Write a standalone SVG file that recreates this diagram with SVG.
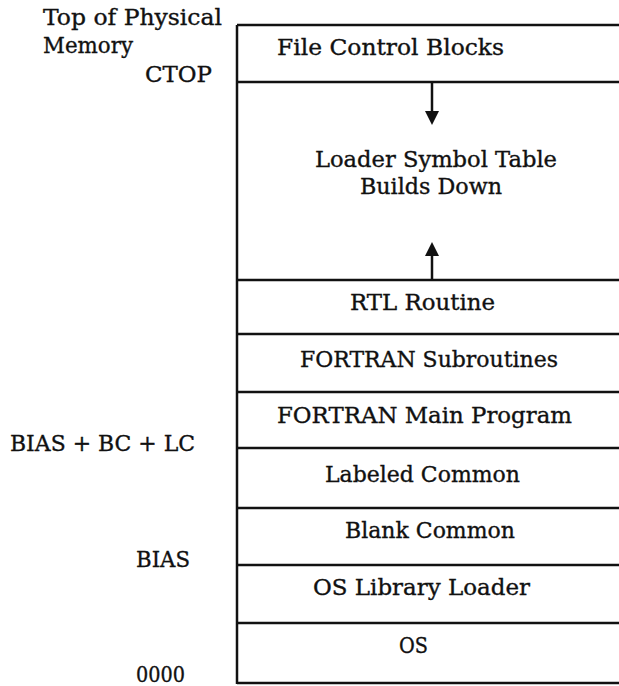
<svg xmlns="http://www.w3.org/2000/svg" width="619" height="686" viewBox="0 0 619 686">
<style>
text{font-family:"DejaVu Serif","Liberation Serif",serif;font-size:22px;fill:#111;stroke:#111;stroke-width:0.35}
.ln{stroke:#111;stroke-width:2.5;fill:none}
</style>
<defs>
<marker id="ah" markerWidth="14" markerHeight="14" refX="6" refY="7" orient="auto" markerUnits="userSpaceOnUse">
<path d="M0,0 L14,7 L0,14 Z" fill="#111"/>
</marker>
</defs>
<rect width="619" height="686" fill="#fff"/>
<g id="labels">
<text x="43" y="25" textLength="179" lengthAdjust="spacingAndGlyphs">Top of Physical</text>
<text x="43" y="53" textLength="90" lengthAdjust="spacingAndGlyphs">Memory</text>
<text x="145" y="82" textLength="67" lengthAdjust="spacingAndGlyphs">CTOP</text>
<text x="10" y="451" textLength="185" lengthAdjust="spacingAndGlyphs">BIAS + BC + LC</text>
<text x="136" y="567" textLength="54" lengthAdjust="spacingAndGlyphs">BIAS</text>
<text x="136" y="682" textLength="49" lengthAdjust="spacingAndGlyphs">0000</text>
</g>
<g id="frame">
<path class="ln" d="M237,25 V684"/>
</g>
<g id="fcb"><path class="ln" d="M237,25 H619"/><text x="277" y="55" textLength="227" lengthAdjust="spacingAndGlyphs">File Control Blocks</text></g>
<g id="lst"><path class="ln" d="M237,82 H619"/><text x="315" y="167" textLength="242" lengthAdjust="spacingAndGlyphs">Loader Symbol Table</text><text x="360" y="194" textLength="142" lengthAdjust="spacingAndGlyphs">Builds Down</text></g>
<g id="rtl"><path class="ln" d="M237,280 H619"/><text x="350" y="310" textLength="145" lengthAdjust="spacingAndGlyphs">RTL Routine</text></g>
<g id="fsub"><path class="ln" d="M237,334 H619"/><text x="300" y="367" textLength="258" lengthAdjust="spacingAndGlyphs">FORTRAN Subroutines</text></g>
<g id="fmain"><path class="ln" d="M237,392 H619"/><text x="277" y="423" textLength="295" lengthAdjust="spacingAndGlyphs">FORTRAN Main Program</text></g>
<g id="lc"><path class="ln" d="M237,448 H619"/><text x="325" y="482" textLength="195" lengthAdjust="spacingAndGlyphs">Labeled Common</text></g>
<g id="bc"><path class="ln" d="M237,508 H619"/><text x="345" y="538" textLength="170" lengthAdjust="spacingAndGlyphs">Blank Common</text></g>
<g id="osll"><path class="ln" d="M237,565 H619"/><text x="313" y="595" textLength="217" lengthAdjust="spacingAndGlyphs">OS Library Loader</text></g>
<g id="os"><path class="ln" d="M237,623 H619"/><text x="399" y="653" textLength="29" lengthAdjust="spacingAndGlyphs">OS</text></g>
<g id="bottom"><path class="ln" d="M237,683 H619"/></g>
<g id="connectors">
<path class="ln" d="M432,83 V117" marker-end="url(#ah)"/>
<path class="ln" d="M432,280 V250" marker-end="url(#ah)"/>
</g>
</svg>
